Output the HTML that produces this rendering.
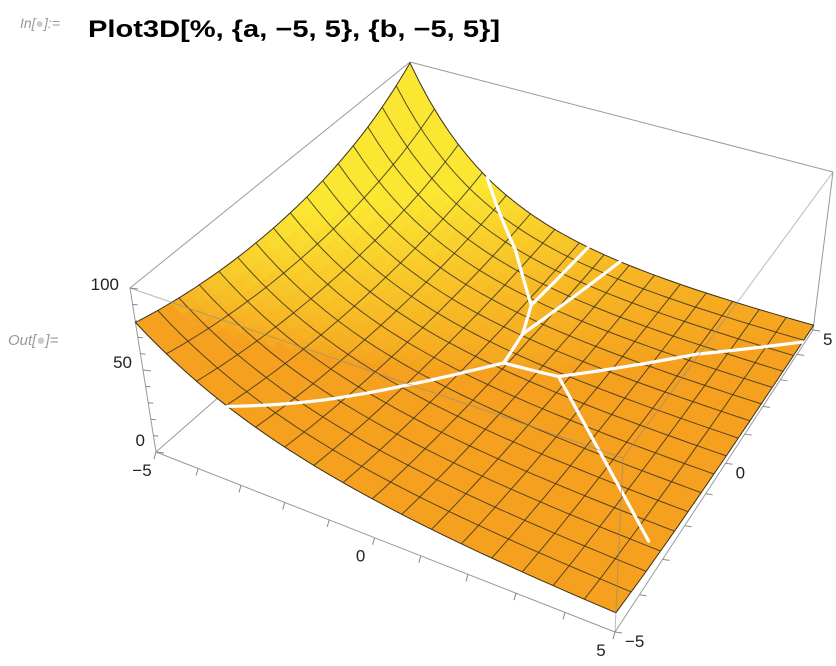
<!DOCTYPE html>
<html><head><meta charset="utf-8">
<style>
html,body{margin:0;padding:0;background:#fff;}
svg{display:block;}
text{font-family:"Liberation Sans",sans-serif;}
</style></head>
<body>
<svg id="chart" width="836" height="666" viewBox="0 0 836 666" xmlns="http://www.w3.org/2000/svg">
  <text x="20" y="28" font-size="14" font-style="italic" fill="#999">In[<tspan fill="#ccc">●</tspan>]:=</text>
  <text x="88" y="37" font-size="24" font-weight="bold" fill="#000" textLength="412" lengthAdjust="spacingAndGlyphs">Plot3D[%, {a, −5, 5}, {b, −5, 5}]</text>
  <text x="8" y="345" font-size="15" font-style="italic" fill="#999">Out[<tspan fill="#ccc">●</tspan>]=</text>
  <g id="back"></g>
  <g id="surf"></g>
  <g id="mesh"></g>
  <g id="white"></g>
  <g id="front"></g>
  <g id="axes"></g>
</svg>
<script>
// ---- data ----
const coefC = 2.62;        // log-surface coefficients
const coefA = -0.273;
const coefB = -0.0535;
const coefAB = -0.0153;
const coefBB = 0.01;
const coefAA = 0.01;
const zTicks = [0, 50, 100];
const aTicks = [-5, 0, 5];
const bTicks = [-5, 0, 5];
const meshCount = 16;
const contourCurve1 = [[-3.1,-5],[-2.1,-3.3],[-1.2,-1.7],[-0.5,-0.5],[-0.07,0.2]];
const contourLine2 = [[-0.07,0.2],[-0.2,1.3],[-0.5,2.3],[-1.6,3.7],[-3,5]];
const contourLine3 = [[-0.5,2.3],[-0.4,5]];
const contourLine4 = [[-0.2,1.3],[0.4,5]];
const contourLine5 = [[-0.07,0.2],[1.05,0.5]];
const contourLine6 = [[1.05,0.5],[3.2,2.8],[5,4.3]];
const contourLine7 = [[1.05,0.5],[4.7,-3.0]];

// ---- projection (box corners in screen space) ----
const Lb=[156,452],Fb=[615,632],Rb=[813,330],Bb=[412,228];
const Lt=[130,288],Ft=[623,458],Rt=[833,172],Bt=[410,62];
function bil(c0,c1,c2,c3,u,v){
  const x=(1-u)*(1-v)*c0[0]+u*(1-v)*c1[0]+u*v*c2[0]+(1-u)*v*c3[0];
  const y=(1-u)*(1-v)*c0[1]+u*(1-v)*c1[1]+u*v*c2[1]+(1-u)*v*c3[1];
  return [x,y];
}
function P(a,b,z){
  let u=(a+5)/10,v=(b+5)/10;const w=z/100;
  u=u/(u+(1-u)*1.1); v=v/(v+(1-v)*0.79);
  const p0=bil(Lb,Fb,Rb,Bb,u,v),p1=bil(Lt,Ft,Rt,Bt,u,v);
  return [p0[0]*(1-w)+p1[0]*w,p0[1]*(1-w)+p1[1]*w];
}
function lnf(a,b){return coefC+coefA*a+coefB*b+coefAB*a*b+coefBB*b*b+coefAA*a*a;}
function f(a,b){return Math.exp(lnf(a,b));}
function S(a,b){return P(a,b,f(a,b));}
const NS="http://www.w3.org/2000/svg";
function mk(tag,attrs,parent){const e=document.createElementNS(NS,tag);for(const k in attrs)e.setAttribute(k,attrs[k]);parent.appendChild(e);return e;}
function pts(arr){return arr.map(p=>p[0].toFixed(1)+","+p[1].toFixed(1)).join(" ");}

const back=document.getElementById('back');
[[Lb,Bb],[Bb,Rb],[Bb,Bt],[Lt,Bt],[Bt,Rt],[Lb,Lt],[Rb,Rt],[Lb,Fb],[Fb,Rb]].forEach(e=>{
  const l=mk('line',{x1:e[0][0],y1:e[0][1],x2:e[1][0],y2:e[1][1],stroke:'#9a9a9a','stroke-width':1},back);
  
  
});

const surf=document.getElementById('surf');
const N=40, quads=[];
for(let i=0;i<N;i++)for(let j=0;j<N;j++){
  const a0=-5+10*i/N,a1=-5+10*(i+1)/N,b0=-5+10*j/N,b1=-5+10*(j+1)/N;
  const am=(a0+a1)/2,bm=(b0+b1)/2;
  const fv=f(am,bm);
  const dfa=fv*(coefA+coefAB*bm+2*coefAA*am);
  const dfb=fv*(coefB+coefAB*am+2*coefBB*bm);
  const s=-0.3*dfa+1.5*dfb;
  let t=Math.max(0,Math.min(1,s/10)); t=Math.pow(t,0.6);
  const r=Math.round(245+6*t), g=Math.round(160+70*t), bl=Math.round(30+20*t);
  quads.push({d:1.3*am-2.4*bm, p:[S(a0,b0),S(a1,b0),S(a1,b1),S(a0,b1)], c:`rgb(${r},${g},${bl})`});
}
quads.sort((x,y)=>x.d-y.d);
quads.forEach(q=>{
  const pg=mk('polygon',{points:pts(q.p),fill:q.c,stroke:q.c,'stroke-width':0.6},surf);
  
  
});
const outline=[];
for(let k=0;k<=40;k++)outline.push(S(-5+k/4,-5));
for(let k=0;k<=40;k++)outline.push(S(5,-5+k/4));
for(let k=0;k<=40;k++)outline.push(S(5-k/4,5));
for(let k=0;k<=40;k++)outline.push(S(-5,5-k/4));
const ol=mk('polygon',{points:pts(outline),fill:'none',stroke:'#3a3020','stroke-width':1},surf);



const mesh=document.getElementById('mesh');
for(let k=1;k<meshCount;k++){
  const c=-5+10*k/meshCount, l1=[], l2=[];
  for(let s=0;s<=40;s++){const t=-5+s/4;l1.push(S(c,t));l2.push(S(t,c));}
  const m1=mk('polyline',{points:pts(l1),fill:'none',stroke:'#3d3420','stroke-width':1,'stroke-opacity':0.85},mesh);
  
  
  const m2=mk('polyline',{points:pts(l2),fill:'none',stroke:'#3d3420','stroke-width':1,'stroke-opacity':0.85},mesh);
  
  
}

const white=document.getElementById('white');
[contourCurve1,contourLine2,contourLine3,contourLine4,contourLine5,contourLine6,contourLine7].forEach(line=>{
  const dense=[];
  for(let i=0;i<line.length-1;i++)for(let s=0;s<10;s++){
    const t=s/10;dense.push(S(line[i][0]*(1-t)+line[i+1][0]*t,line[i][1]*(1-t)+line[i+1][1]*t));
  }
  const last=line[line.length-1];dense.push(S(last[0],last[1]));
  const wl=mk('polyline',{points:pts(dense),fill:'none',stroke:'#fff','stroke-width':3.2,'stroke-linejoin':'round','stroke-linecap':'round'},white);
  
  
});

const front=document.getElementById('front');
[[Lt,Ft],[Ft,Rt],[Ft,Fb]].forEach(e=>{
  const l=mk('line',{x1:e[0][0],y1:e[0][1],x2:e[1][0],y2:e[1][1],stroke:'#8a8a8a','stroke-width':1,'stroke-opacity':0.6},front);
  
  
});

const axes=document.getElementById('axes');
for(let z=0;z<=100;z+=10){
  const p=P(-5,-5,z);const big=z%50===0;
  const tk=mk('line',{x1:p[0],y1:p[1],x2:p[0]+(big?8:5),y2:p[1]+(big?1:0.5),stroke:'#888','stroke-width':1},axes);
  
  
}
zTicks.forEach(z=>{
  const p=P(-5,-5,z);
  const t=mk('text',{x:p[0]-11,y:446-156*z/100,'font-size':17,'text-anchor':'end',fill:'#222'},axes);
  t.textContent=String(z);
  
  
});
for(let a=-5;a<=5;a+=1){
  const p=P(a,-5,0);
  const tk=mk('line',{x1:p[0],y1:p[1],x2:p[0]-2,y2:p[1]+7,stroke:'#888','stroke-width':1},axes);
  
  
}
aTicks.forEach(a=>{
  const p=P(a,-5,0);
  const t=mk('text',{x:p[0]-14,y:p[1]+24,'font-size':17,'text-anchor':'middle',fill:'#222'},axes);
  t.textContent=a<0?'−'+Math.abs(a):String(a);
  
  
});
for(let b=-5;b<=5;b+=1){
  const p=P(5,b,0);
  const tk=mk('line',{x1:p[0],y1:p[1],x2:p[0]+7,y2:p[1]+1,stroke:'#888','stroke-width':1},axes);
  
  
}
bTicks.forEach(b=>{
  const p=P(5,b,0);
  const t=mk('text',{x:p[0]+10,y:p[1]+15,'font-size':17,'text-anchor':'start',fill:'#222'},axes);
  t.textContent=b<0?'−'+Math.abs(b):String(b);
  
  
});
</script>
</body></html>
